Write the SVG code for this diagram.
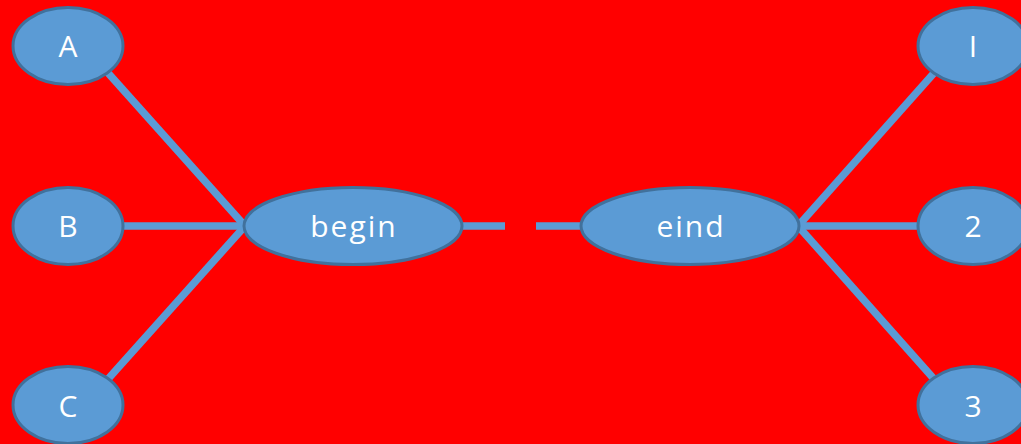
<svg xmlns="http://www.w3.org/2000/svg" width="1021" height="444" viewBox="0 0 1021 444">
<style>
.n ellipse{fill:#5B9BD5;stroke:#41719C;stroke-width:3}
.n text{fill:#fff;font-family:"Open Sans","Liberation Sans",sans-serif;font-size:30px;text-anchor:middle;letter-spacing:2px}
.c line{stroke:#5B9BD5;stroke-width:7.5}
</style>
<rect width="1021" height="444" fill="#FF0000"/>
<g id="connectors" class="c">
<line x1="100" y1="64" x2="245" y2="226"/>
<line x1="110" y1="226" x2="245" y2="226"/>
<line x1="100" y1="388" x2="245" y2="226"/>
<line x1="460" y1="226" x2="505" y2="226"/>
<line x1="536" y1="226" x2="582" y2="226"/>
<line x1="798" y1="226" x2="942" y2="64"/>
<line x1="798" y1="226" x2="930" y2="226"/>
<line x1="798" y1="226" x2="942" y2="388"/>
</g>
<g id="A" class="n"><ellipse cx="68" cy="46" rx="55" ry="38.5"/><text x="69" y="57">A</text></g>
<g id="B" class="n"><ellipse cx="68" cy="226" rx="55" ry="38.5"/><text x="69" y="237">B</text></g>
<g id="C" class="n"><ellipse cx="68" cy="405" rx="55" ry="38.5"/><text x="69" y="417">C</text></g>
<g id="begin" class="n"><ellipse cx="353" cy="226" rx="109" ry="38.5"/><text x="354" y="237">begin</text></g>
<g id="eind" class="n"><ellipse cx="690" cy="226" rx="109" ry="38.5"/><text x="691" y="237">eind</text></g>
<g id="I" class="n"><ellipse cx="973" cy="46" rx="55" ry="38.5"/><text x="974" y="57">I</text></g>
<g id="n2" class="n"><ellipse cx="973" cy="226" rx="55" ry="38.5"/><text x="974" y="237">2</text></g>
<g id="n3" class="n"><ellipse cx="973" cy="405" rx="55" ry="38.5"/><text x="974" y="417">3</text></g>
</svg>
